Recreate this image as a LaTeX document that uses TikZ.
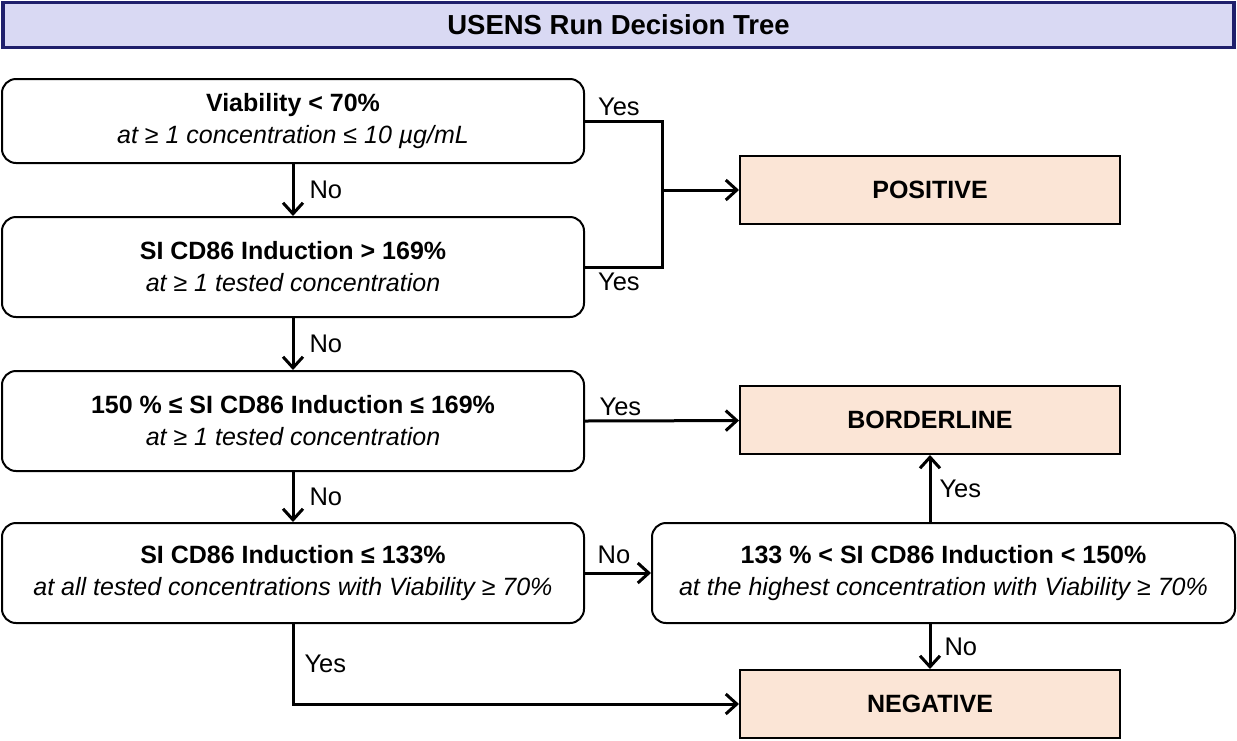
\documentclass[tikz,border=0pt]{standalone}
\usepackage{fontspec}
\setmainfont{Liberation Sans}
\usetikzlibrary{arrows.meta}
\definecolor{titlefill}{HTML}{D9D9F3}
\definecolor{titleline}{HTML}{1F1F6B}
\definecolor{resultfill}{HTML}{FBE5D6}
\tikzset{
  titlebox/.style={draw=titleline, line width=3.5pt, fill=titlefill, minimum width=1231pt, minimum height=45pt, inner sep=0pt, font=\fontsize{27.5}{31}\selectfont\bfseries},
  testbox/.style={draw=black, line width=2pt, rounded corners=14pt, align=center, inner sep=0pt, minimum width=582pt, minimum height=100pt, font=\fontsize{25}{32}\selectfont},
  resultbox/.style={draw=black, line width=2pt, fill=resultfill, minimum width=380pt, minimum height=68pt, inner sep=0pt, font=\fontsize{25}{30}\selectfont\bfseries},
  flow/.style={line width=3pt, -{Straight Barb[length=11pt,width=20pt]}},
  link/.style={line width=3pt},
  answer/.style={font=\fontsize{25.5}{29}\selectfont, inner sep=4pt}
}

\begin{document}
\begin{tikzpicture}[x=1pt, y=-1pt]
\useasboundingbox (0,0) rectangle (1237,740);
\path (618.5,25) node (title) [titlebox] {USENS Run Decision Tree};
% tests on the left
\path (293,121) node (via) [testbox, minimum height=84pt] {\textbf{Viability < 70\%}\\ \textit{at ≥ 1 concentration ≤ 10 µg/mL}};
\path (293,267) node (ind) [testbox] {\textbf{SI CD86 Induction > 169\%}\\ \textit{at ≥ 1 tested concentration}};
\path (293,421) node (mid) [testbox] {\textbf{150 \% ≤ SI CD86 Induction ≤ 169\%}\\ \textit{at ≥ 1 tested concentration}};
\path (293,573) node (low) [testbox] {\textbf{SI CD86 Induction ≤ 133\%}\\ \textit{at all tested concentrations with Viability ≥ 70\%}};
\path (943.5,573) node (high) [testbox, minimum width=583pt] {\textbf{133 \% < SI CD86 Induction < 150\%}\\ \textit{at the highest concentration with Viability ≥ 70\%}};
% results
\path (930,190) node (pos) [resultbox] {POSITIVE};
\path (930,420) node (bord) [resultbox] {BORDERLINE};
\path (930,704) node (neg) [resultbox] {NEGATIVE};
\coordinate (join) at (662,190);
% connectors
\draw[link] (via.east) -| (join) node[pos=0.22, answer, above] {Yes};
\draw[link] (ind.east) -| (join) node[pos=0.22, answer, below] {Yes};
\draw[flow] (join) -- (pos);
\draw[flow] (via) -- (ind) node[midway, answer, right, xshift=11pt] {No};
\draw[flow] (ind) -- (mid) node[midway, answer, right, xshift=11pt] {No};
\draw[flow] (mid) -- (low) node[midway, answer, right, xshift=11pt] {No};
\draw[flow] (mid.east) -- (bord) node[pos=0.23, answer, above] {Yes};
\draw[flow] (low) -- (high) node[midway, answer, above, xshift=-4pt, yshift=4pt] {No};
\draw[flow] (high.north -| bord) -- (bord) node[midway, answer, right, xshift=4pt] {Yes};
\draw[flow] (high.south -| neg) -- (neg) node[midway, answer, right, xshift=9pt] {No};
\draw[flow] (low.south) |- (neg.west) node[pos=0.25, answer, right, xshift=6pt] {Yes};
\end{tikzpicture}
\end{document}
